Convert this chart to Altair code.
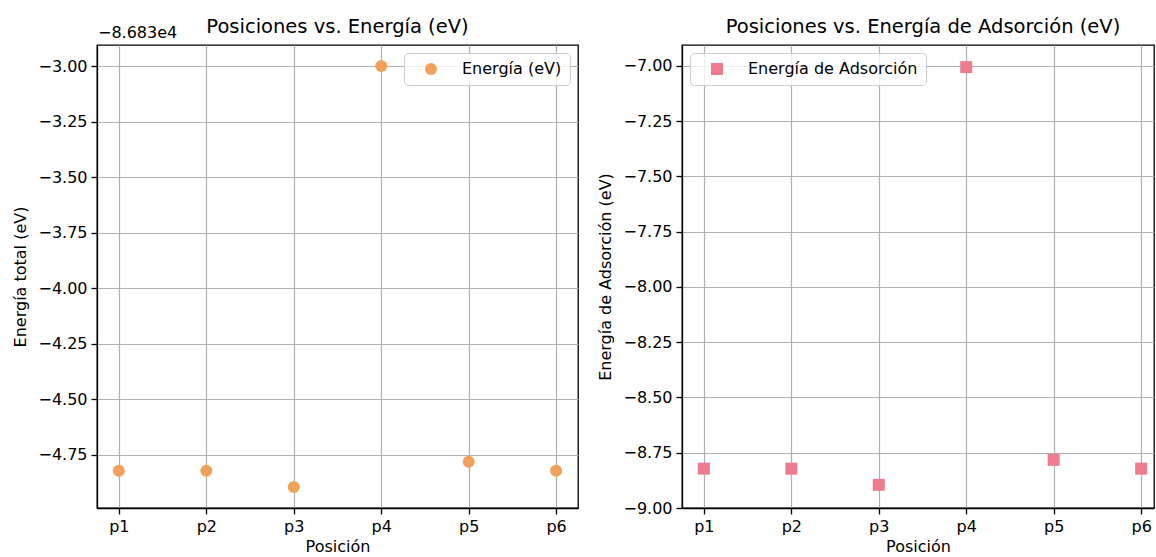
import altair as alt
import pandas as pd

# Valores por posición
posiciones = ["p1", "p2", "p3", "p4", "p5", "p6"]
energia_total = [-86834.822, -86834.822, -86834.895, -86833.000, -86834.782, -86834.822]
energia_adsorcion = [-8.822, -8.822, -8.895, -7.005, -8.782, -8.822]

# Desplazamiento mostrado sobre el eje y del primer panel
OFFSET = -86830
offset_label = "−8.683e4"

ticks_total = [-4.75, -4.50, -4.25, -4.00, -3.75, -3.50, -3.25, -3.00]
ticks_ads = [-9.00, -8.75, -8.50, -8.25, -8.00, -7.75, -7.50, -7.25, -7.00]

FONT = "DejaVu Sans"
ORANGE = "#f2a05a"
PINK = "#ee7b8e"

df = pd.DataFrame({
    "idx": list(range(1, len(posiciones) + 1)),
    "pos": posiciones,
    "total": energia_total,
    "ads": energia_adsorcion,
})

label_expr = "[" + ",".join(f"'{p}'" for p in posiciones) + "][datum.value - 1]"


def x_enc(domain):
    return alt.X(
        "idx:Q",
        title="Posición",
        scale=alt.Scale(domain=domain, nice=False, zero=False),
        axis=alt.Axis(values=list(range(1, len(posiciones) + 1)), labelExpr=label_expr),
    )


# Panel izquierdo: energía total
puntos_total = (
    alt.Chart(df)
    .transform_calculate(rel=f"datum.total - ({OFFSET})", serie="'Energía (eV)'")
    .mark_point(shape="circle", filled=True, size=144, opacity=1)
    .encode(
        x=x_enc([0.75, 6.25]),
        y=alt.Y(
            "rel:Q",
            title="Energía total (eV)",
            scale=alt.Scale(domain=[-4.99, -2.905], nice=False, zero=False),
            axis=alt.Axis(values=ticks_total, format=".2f"),
        ),
        color=alt.Color(
            "serie:N",
            scale=alt.Scale(domain=["Energía (eV)"], range=[ORANGE]),
            legend=alt.Legend(title=None, orient="top-right", symbolType="circle"),
        ),
    )
)

texto_offset = (
    alt.Chart(pd.DataFrame({"t": [offset_label]}))
    .mark_text(align="left", baseline="alphabetic", fontSize=16, font=FONT, color="black")
    .encode(x=alt.value(1), y=alt.value(-7), text="t:N")
)

# the offset text sits above the plot, so the title offset compensates for it
panel_total = alt.layer(puntos_total, texto_offset).properties(
    width=481, height=463, title=alt.TitleParams("Posiciones vs. Energía (eV)", offset=-12)
)

# Panel derecho: energía de adsorción
panel_ads = (
    alt.Chart(df)
    .transform_calculate(serie="'Energía de Adsorción'")
    .mark_point(shape="square", filled=True, size=144, opacity=1)
    .encode(
        x=x_enc([0.75, 6.147]),
        y=alt.Y(
            "ads:Q",
            title="Energía de Adsorción (eV)",
            scale=alt.Scale(domain=[-9.0, -6.905], nice=False, zero=False),
            axis=alt.Axis(values=ticks_ads, format=".2f"),
        ),
        color=alt.Color(
            "serie:N",
            scale=alt.Scale(domain=["Energía de Adsorción"], range=[PINK]),
            legend=alt.Legend(title=None, orient="top-left", symbolType="square"),
        ),
    )
    .properties(
        width=472,
        height=463,
        title=alt.TitleParams("Posiciones vs. Energía de Adsorción (eV)", dx=5),
    )
)

chart = (
    alt.hconcat(panel_total, panel_ads, spacing=18)
    .resolve_scale(color="independent")
    .properties(padding={"left": 12, "top": 15, "right": 0, "bottom": 0})
    .configure(font=FONT)
    .configure_view(stroke="black", strokeWidth=1.3)
    .configure_title(fontSize=19.5, fontWeight="normal", offset=8, color="black", anchor="middle")
    .configure_axis(
        labelFontSize=16,
        titleFontSize=16,
        titleFontWeight="normal",
        labelColor="black",
        titleColor="black",
        tickSize=6,
        tickWidth=1.3,
        tickColor="black",
        domainColor="black",
        domainWidth=1.3,
        labelPadding=4,
        gridColor="#b0b0b0",
        gridWidth=1.2,
    )
    .configure_axisY(titlePadding=9)
    .configure_axisX(titlePadding=4)
    .configure_legend(
        fillColor="rgba(255,255,255,0.8)",
        strokeColor="#cccccc",
        cornerRadius=4,
        padding=8,
        labelFontSize=16,
        labelColor="black",
        labelLimit=400,
        symbolSize=144,
        symbolStrokeWidth=0,
        labelOffset=23,
        symbolOffset=11,
        offset=8,
    )
)

chart.save("out.html", embed_options={"renderer": "svg", "actions": False})
